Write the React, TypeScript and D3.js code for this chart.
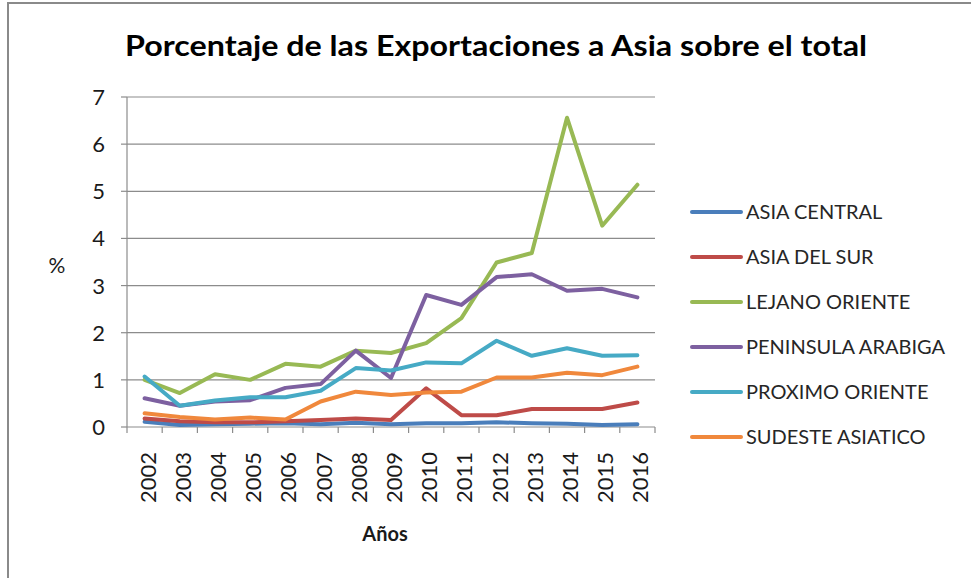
import React from 'react';
import * as d3 from 'd3';

// Years on the x axis
const YEARS = ['2002', '2003', '2004', '2005', '2006', '2007', '2008', '2009', '2010', '2011', '2012', '2013', '2014', '2015', '2016'];

// Series values (% of exports going to each Asian region)
const ASIA_CENTRAL = [0.11, 0.04, 0.06, 0.07, 0.08, 0.06, 0.09, 0.06, 0.08, 0.08, 0.1, 0.08, 0.07, 0.04, 0.06];
const ASIA_DEL_SUR = [0.18, 0.12, 0.1, 0.1, 0.12, 0.15, 0.18, 0.15, 0.82, 0.25, 0.25, 0.38, 0.38, 0.38, 0.52];
const LEJANO_ORIENTE = [1.0, 0.72, 1.12, 1.0, 1.34, 1.28, 1.62, 1.57, 1.78, 2.31, 3.49, 3.69, 6.56, 4.27, 5.14];
const PENINSULA_ARABIGA = [0.61, 0.45, 0.54, 0.57, 0.83, 0.91, 1.62, 1.04, 2.8, 2.59, 3.18, 3.24, 2.89, 2.93, 2.75];
const PROXIMO_ORIENTE = [1.07, 0.45, 0.56, 0.63, 0.63, 0.77, 1.25, 1.2, 1.37, 1.35, 1.83, 1.51, 1.67, 1.51, 1.52];
const SUDESTE_ASIATICO = [0.29, 0.21, 0.16, 0.2, 0.16, 0.54, 0.75, 0.68, 0.73, 0.75, 1.05, 1.05, 1.15, 1.1, 1.28];

const Y_TICKS = [0, 1, 2, 3, 4, 5, 6, 7];

const SERIES = [
  { name: 'ASIA CENTRAL', values: ASIA_CENTRAL, color: '#4A7EBB' },
  { name: 'ASIA DEL SUR', values: ASIA_DEL_SUR, color: '#BE4B48' },
  { name: 'LEJANO ORIENTE', values: LEJANO_ORIENTE, color: '#98B954' },
  { name: 'PENINSULA ARABIGA', values: PENINSULA_ARABIGA, color: '#7D60A0' },
  { name: 'PROXIMO ORIENTE', values: PROXIMO_ORIENTE, color: '#46AAC5' },
  { name: 'SUDESTE ASIATICO', values: SUDESTE_ASIATICO, color: '#F0883C' },
];

const W = 971;
const H = 578;
const FONT = 'Lato, "Liberation Sans", Arial, sans-serif';

export default function App() {
  const plot = { left: 127, right: 655, top: 97, bottom: 427 };

  const x = d3.scaleBand().domain(YEARS).range([plot.left, plot.right]);
  const y = d3.scaleLinear().domain([0, 7]).range([plot.bottom, plot.top]);

  const line = d3
    .line<number>()
    .x((_, i) => (x(YEARS[i]) as number) + x.bandwidth() / 2)
    .y((d) => y(d));

  const legendY = d3.scalePoint<string>()
    .domain(SERIES.map((s) => s.name))
    .range([212, 437]);

  // tick marks between categories on the x axis
  const xTicks = YEARS.map((yr) => x(yr) as number).concat([plot.right]);

  return (
    <svg
      width={W}
      height={H}
      style={{ position: 'absolute', left: 0, top: 0, background: '#fff' }}
      fontFamily={FONT}
    >
      {/* chart frame */}
      <rect x={8} y={3} width={1000} height={1000} fill="#fff" stroke="#8a8a8a" strokeWidth={2} />

      {/* title */}
      <text
        x={125}
        y={56}
        fontSize={29}
        fontWeight="bold"
        fill="#000"
        textLength={742}
        lengthAdjust="spacingAndGlyphs"
      >
        Porcentaje de las Exportaciones a Asia sobre el total
      </text>

      {/* gridlines */}
      {Y_TICKS.map((t) => (
        <line key={`g${t}`} x1={plot.left} x2={plot.right} y1={y(t)} y2={y(t)} stroke="#8c8c8c" strokeWidth={1.2} />
      ))}

      {/* y axis */}
      <line x1={plot.left} x2={plot.left} y1={plot.top} y2={plot.bottom} stroke="#8c8c8c" strokeWidth={1.2} />
      {Y_TICKS.map((t) => (
        <g key={`yt${t}`}>
          <line x1={plot.left - 6} x2={plot.left} y1={y(t)} y2={y(t)} stroke="#8c8c8c" strokeWidth={1.2} />
          <text x={105} y={y(t) + 8} fontSize={22} textAnchor="end" fill="#1a1a1a">
            {t}
          </text>
        </g>
      ))}

      {/* x axis */}
      {xTicks.map((tx, i) => (
        <line key={`xt${i}`} x1={tx} x2={tx} y1={plot.bottom} y2={plot.bottom + 6} stroke="#8c8c8c" strokeWidth={1.2} />
      ))}
      {YEARS.map((yr) => {
        const cx = (x(yr) as number) + x.bandwidth() / 2 + 3;
        return (
          <text
            key={`xl${yr}`}
            transform={`translate(${cx + 8},452) rotate(-90)`}
            fontSize={22}
            textAnchor="end"
            fill="#1a1a1a"
          >
            {yr}
          </text>
        );
      })}

      {/* axis titles */}
      <text x={57} y={273} fontSize={21} textAnchor="middle" fill="#1a1a1a">%</text>
      <text x={385} y={541} fontSize={20} fontWeight="bold" textAnchor="middle" fill="#1a1a1a">Años</text>

      {/* series */}
      {SERIES.map((s) => (
        <path
          key={s.name}
          d={line(s.values) || ''}
          fill="none"
          stroke={s.color}
          strokeWidth={4}
          strokeLinejoin="round"
          strokeLinecap="round"
        />
      ))}

      {/* legend */}
      {SERIES.map((s) => {
        const ly = legendY(s.name) as number;
        return (
          <g key={`lg${s.name}`}>
            <line x1={692} x2={741} y1={ly} y2={ly} stroke={s.color} strokeWidth={4} strokeLinecap="round" />
            <text x={746} y={ly + 7} fontSize={20} fill="#262626">
              {s.name}
            </text>
          </g>
        );
      })}
    </svg>
  );
}
